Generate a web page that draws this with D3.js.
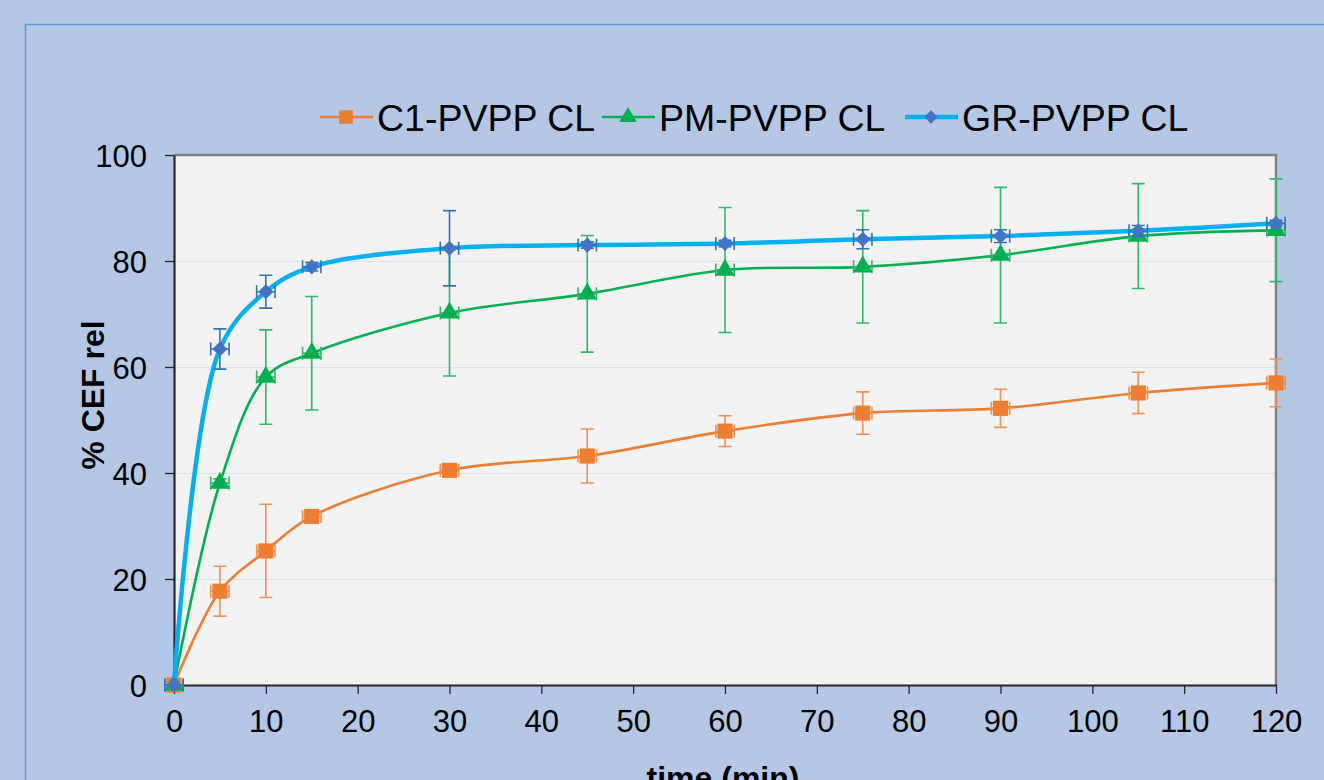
<!DOCTYPE html>
<html>
<head>
<meta charset="utf-8">
<script src="https://cdn.jsdelivr.net/npm/d3@7"></script>
<style>
  html, body { margin: 0; padding: 0; background: #b4c7e7; }
  svg { display: block; font-family: "Liberation Sans", Arial, sans-serif; }
</style>
</head>
<body>
<div class="chart"></div>
<script>
// data
var times = [0, 5, 10, 15, 30, 45, 60, 75, 90, 105, 120];

var c1Values = [0, 17.7, 25.3, 31.8, 40.5, 43.2, 47.9, 51.3, 52.2, 55.1, 57.0];
var c1Errors = [0, 4.7, 8.8, 1.0, 1.2, 5.1, 2.9, 4.0, 3.6, 3.9, 4.5];
var pmValues = [0, 38.1, 58.1, 62.6, 70.2, 73.8, 78.3, 78.9, 81.1, 84.7, 85.8];
var pmErrors = [0, 0.8, 8.9, 10.7, 11.9, 11.0, 11.8, 10.6, 12.8, 9.9, 9.7];
var grValues = [0, 63.4, 74.2, 78.9, 82.4, 83.0, 83.3, 84.1, 84.7, 85.7, 87.1];
var grErrors = [0, 3.8, 3.1, 0.8, 7.1, 0.6, 0.6, 1.8, 1.2, 1.0, 0.6];
var timeErrors = [1, 1, 1, 1, 1, 1, 1, 1, 1, 1, 1];

var seriesNames = ["C1-PVPP CL", "PM-PVPP CL", "GR-PVPP CL"];
var xTicks = [0, 10, 20, 30, 40, 50, 60, 70, 80, 90, 100, 110, 120];
var yTicks = [0, 20, 40, 60, 80, 100];

// svg wrapper dimensions
var svgWidth = 1324;
var svgHeight = 780;

var margin = {
    top: 155,
    right: 48,
    bottom: 95,
    left: 174
};

var width = svgWidth - margin.left - margin.right;
var height = svgHeight - margin.top - margin.bottom;

var svg = d3
    .select(".chart")
    .append("svg")
    .attr("width", svgWidth)
    .attr("height", svgHeight);

// outer background and frame
svg.append("rect")
    .attr("width", svgWidth)
    .attr("height", svgHeight)
    .attr("fill", "#b4c7e7");

svg.append("path")
    .attr("d", `M25.5,${svgHeight + 5}V24.5H${svgWidth + 5}`)
    .attr("fill", "none")
    .attr("stroke", "#5b9bd5")
    .attr("stroke-width", 1.5);

var chartGroup = svg.append("g")
    .attr("transform", `translate(${margin.left}, ${margin.top})`);

var xScale = d3.scaleLinear().domain([0, 120]).range([0, width]);
var yScale = d3.scaleLinear().domain([0, 100]).range([height, 0]);

// plot area
chartGroup.append("rect")
    .attr("width", width)
    .attr("height", height)
    .attr("fill", "#f2f2f2");

// gridlines
chartGroup.append("g")
    .selectAll("line")
    .data(yTicks.filter(d => d > 0 && d < 100))
    .enter()
    .append("line")
    .attr("x1", 0)
    .attr("x2", width)
    .attr("y1", d => Math.round(yScale(d)) + 0.5)
    .attr("y2", d => Math.round(yScale(d)) + 0.5)
    .attr("stroke", "#d9e0ee")
    .attr("stroke-width", 1.2);

// top and right border
chartGroup.append("path")
    .attr("d", `M0,0H${width}V${height}`)
    .attr("fill", "none")
    .attr("stroke", "#808080")
    .attr("stroke-width", 2.5);

// axes
var bottomAxis = d3.axisBottom(xScale)
    .tickValues(xTicks)
    .tickSize(9)
    .tickSizeOuter(0)
    .tickPadding(16);

var leftAxis = d3.axisLeft(yScale)
    .tickValues(yTicks)
    .tickSize(9)
    .tickSizeOuter(0)
    .tickPadding(18);

var xAxis = chartGroup.append("g")
    .attr("transform", `translate(0, ${height})`)
    .call(bottomAxis);

var yAxis = chartGroup.append("g")
    .call(leftAxis);

[xAxis, yAxis].forEach(function(axis) {
    axis.select(".domain").attr("stroke", "#262626").attr("stroke-width", 2.2);
    axis.selectAll(".tick line").attr("stroke", "#262626").attr("stroke-width", 1.3);
    axis.selectAll(".tick text")
        .attr("fill", "#000")
        .style("font-size", "31px")
        .style("font-family", "'Liberation Sans', Arial, sans-serif");
});
yAxis.selectAll(".tick text").attr("dy", "0.36em");

// axis titles
svg.append("text")
    .attr("x", 723)
    .attr("y", 789)
    .attr("text-anchor", "middle")
    .style("font-size", "32px")
    .style("font-weight", "bold")
    .text("time (min)");

svg.append("text")
    .attr("transform", "translate(104, 395) rotate(-90)")
    .attr("text-anchor", "middle")
    .style("font-size", "32px")
    .style("font-weight", "bold")
    .text("% CEF rel");

// series setup
var series = [
    { name: seriesNames[0], values: c1Values, errors: c1Errors, line: "#ed7d31", lineWidth: 2.6,
      marker: "#ed7d31", bar: "#ef9055", shape: d3.symbolSquare, size: 230, rot: 0, legendX: 320 },
    { name: seriesNames[1], values: pmValues, errors: pmErrors, line: "#00b050", lineWidth: 2.6,
      marker: "#00b050", bar: "#2db86a", shape: d3.symbolTriangle, size: 165, rot: 0, legendX: 602 },
    { name: seriesNames[2], values: grValues, errors: grErrors, line: "#00b0f0", lineWidth: 4.5,
      marker: "#4472c4", bar: "#2e75b6", shape: d3.symbolSquare, size: 115, rot: 45, legendX: 905 }
];

var lineGen = d3.line()
    .x(d => xScale(d.t))
    .y(d => yScale(d.v))
    .curve(d3.curveCatmullRom.alpha(0.5));

var cap = 6.5;

series.forEach(function(s) {
    var points = times.map((t, i) => ({ t: t, v: s.values[i], e: s.errors[i], te: timeErrors[i] }));
    var g = chartGroup.append("g");

    g.append("path")
        .datum(points)
        .attr("d", lineGen)
        .attr("fill", "none")
        .attr("stroke", s.line)
        .attr("stroke-width", s.lineWidth)
        .attr("stroke-linejoin", "round");

    // vertical error bars
    var errG = g.append("g")
        .attr("stroke", s.bar)
        .attr("stroke-width", 1.6)
        .attr("fill", "none");

    errG.selectAll("path.yerr")
        .data(points)
        .enter()
        .append("path")
        .attr("class", "yerr")
        .attr("d", function(d) {
            var x = xScale(d.t), y1 = yScale(d.v + d.e), y2 = yScale(d.v - d.e);
            return `M${x},${y1}V${y2}M${x - cap},${y1}H${x + cap}M${x - cap},${y2}H${x + cap}`;
        });

    // horizontal error bars
    errG.selectAll("path.xerr")
        .data(points)
        .enter()
        .append("path")
        .attr("class", "xerr")
        .attr("d", function(d) {
            var y = yScale(d.v), x1 = xScale(d.t - d.te), x2 = xScale(d.t + d.te);
            return `M${x1},${y}H${x2}M${x1},${y - cap}V${y + cap}M${x2},${y - cap}V${y + cap}`;
        });

    g.selectAll("path.marker")
        .data(points)
        .enter()
        .append("path")
        .attr("class", "marker")
        .attr("transform", d => `translate(${xScale(d.t)}, ${yScale(d.v)}) rotate(${s.rot})`)
        .attr("d", d3.symbol().type(s.shape).size(s.size))
        .attr("fill", s.marker);
});

// legend
var legend = svg.append("g").attr("transform", "translate(0, 117)");
series.forEach(function(s) {
    var item = legend.append("g").attr("transform", `translate(${s.legendX}, 0)`);
    item.append("line")
        .attr("x1", 0)
        .attr("x2", 53)
        .attr("stroke", s.line)
        .attr("stroke-width", s.lineWidth);
    item.append("path")
        .attr("transform", `translate(26, 0) rotate(${s.rot})`)
        .attr("d", d3.symbol().type(s.shape).size(s.size * 0.8))
        .attr("fill", s.marker);
    item.append("text")
        .attr("x", 57)
        .attr("dy", "0.36em")
        .style("font-size", "37.5px")
        .text(s.name);
});
</script>
</body>
</html>
